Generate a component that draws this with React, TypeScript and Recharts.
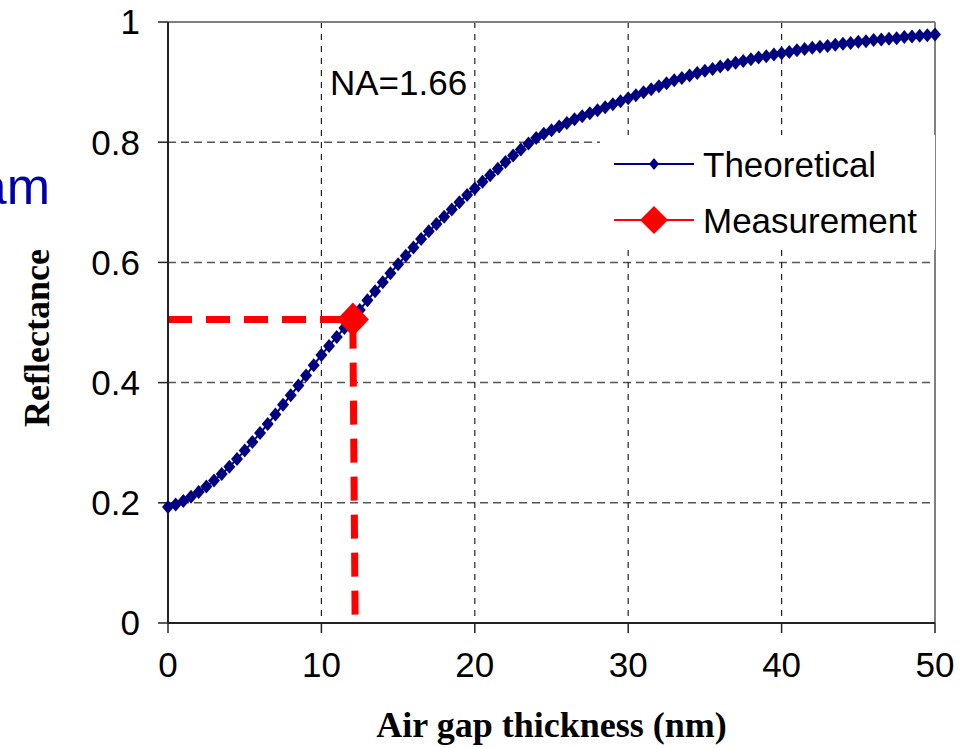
import React from 'react';
import { LineChart, Line, XAxis, YAxis, CartesianGrid, ReferenceLine, Legend } from 'recharts';

// air gap thickness (nm), one point every 0.5 nm
const THICKNESS = [
    0, 0.5, 1, 1.5, 2, 2.5, 3, 3.5, 4, 4.5, 5, 5.5, 6, 6.5, 7, 7.5, 8, 8.5, 9, 9.5,
    10, 10.5, 11, 11.5, 12, 12.5, 13, 13.5, 14, 14.5, 15, 15.5, 16, 16.5, 17, 17.5, 18, 18.5, 19, 19.5,
    20, 20.5, 21, 21.5, 22, 22.5, 23, 23.5, 24, 24.5, 25, 25.5, 26, 26.5, 27, 27.5, 28, 28.5, 29, 29.5,
    30, 30.5, 31, 31.5, 32, 32.5, 33, 33.5, 34, 34.5, 35, 35.5, 36, 36.5, 37, 37.5, 38, 38.5, 39, 39.5,
    40, 40.5, 41, 41.5, 42, 42.5, 43, 43.5, 44, 44.5, 45, 45.5, 46, 46.5, 47, 47.5, 48, 48.5, 49, 49.5,
    50,
];

const REFLECTANCE = [
    0.193, 0.197, 0.203, 0.21, 0.218, 0.227, 0.237, 0.248, 0.26, 0.273,
    0.287, 0.301, 0.316, 0.331, 0.347, 0.363, 0.379, 0.395, 0.412, 0.429,
    0.446, 0.461, 0.476, 0.491, 0.506, 0.521, 0.537, 0.552, 0.567, 0.582,
    0.597, 0.611, 0.625, 0.639, 0.652, 0.664, 0.676, 0.688, 0.7, 0.712,
    0.723, 0.734, 0.745, 0.756, 0.767, 0.778, 0.788, 0.798, 0.807, 0.814,
    0.82, 0.826, 0.832, 0.838, 0.843, 0.848, 0.853, 0.858, 0.863, 0.868,
    0.873, 0.878, 0.883, 0.888, 0.893, 0.898, 0.903, 0.907, 0.911, 0.915,
    0.919, 0.922, 0.926, 0.929, 0.932, 0.935, 0.938, 0.941, 0.943, 0.946,
    0.948, 0.95, 0.953, 0.955, 0.957, 0.959, 0.96, 0.962, 0.964, 0.965,
    0.967, 0.968, 0.97, 0.971, 0.972, 0.973, 0.975, 0.976, 0.977, 0.978,
    0.979,
];

// measured point with its guide lines (from the y axis, and down to the x axis)
const MEAS_X = [0, 12.05, 12.2];
const MEAS_Y = [0.505, 0.505, 0];
const MEAS_POINT = 1;

const X_TICKS = [0, 10, 20, 30, 40, 50];
const Y_TICKS = [0, 0.2, 0.4, 0.6, 0.8, 1];

const NAVY = '#000080';
const RED = '#ff0000';
const SANS = '"Liberation Sans", Arial, sans-serif';
const SERIF = '"Liberation Serif", "Times New Roman", serif';

const theoryData = THICKNESS.map((x, i) => ({ x, y: REFLECTANCE[i] }));
const measData = MEAS_X.map((x, i) => ({ x, y: MEAS_Y[i] }));

const diamond = (cx: number, cy: number, w: number, h: number, fill: string, key?: string) => (
    <polygon
        key={key}
        points={`${cx},${cy - h} ${cx + w},${cy} ${cx},${cy + h} ${cx - w},${cy}`}
        fill={fill}
    />
);

const TheoryDot = (props: any) => {
    const { cx, cy, index } = props;
    if (cx == null || cy == null) return <g key={`t-${index}`} />;
    return diamond(cx, cy, 6, 7, NAVY, `t-${index}`);
};

const MeasDot = (props: any) => {
    const { cx, cy, index } = props;
    if (index !== MEAS_POINT || cx == null) return <g key={`m-${index}`} />;
    return diamond(cx, cy, 16, 17, RED, `m-${index}`);
};

const renderLegend = () => (
    <svg width={335} height={115}>
        <line x1={14} x2={94} y1={29} y2={29} stroke={NAVY} strokeWidth={2} />
        {diamond(54, 29, 5, 6, NAVY)}
        <text x={103} y={29} dominantBaseline="central" fontSize={35} fontFamily={SANS} fill="#000">
            Theoretical
        </text>
        <line x1={14} x2={94} y1={85} y2={85} stroke={RED} strokeWidth={2} />
        {diamond(54, 85, 14, 14, RED)}
        <text x={103} y={85} dominantBaseline="central" fontSize={35} fontFamily={SANS} fill="#000">
            Measurement
        </text>
    </svg>
);

const tickStyle = { fill: '#000', fontSize: 35, fontFamily: SANS };

const App: React.FC = () => {
    return (
        <div style={{ position: 'absolute', left: 0, top: 0, width: 971, height: 748, background: '#fff' }}>
            <LineChart width={971} height={748} margin={{ top: 22, right: 36, bottom: 0, left: 0 }}>
                <CartesianGrid vertical={false} stroke="#555" strokeWidth={1.5} strokeDasharray="8 5" />
                <CartesianGrid horizontal={false} stroke="#222" strokeWidth={1.2} strokeDasharray="6 6" />
                <XAxis
                    type="number"
                    dataKey="x"
                    domain={[0, 50]}
                    ticks={X_TICKS}
                    height={125}
                    tickSize={10}
                    tickMargin={19}
                    tick={tickStyle}
                    axisLine={{ stroke: '#222', strokeWidth: 2 }}
                    tickLine={{ stroke: '#222', strokeWidth: 1.5 }}
                    label={{
                        content: (p: any) => (
                            <text
                                x={p.viewBox.x + p.viewBox.width / 2}
                                y={737}
                                textAnchor="middle"
                                fontFamily={SERIF}
                                fontWeight="bold"
                                fontSize={36}
                                fill="#000"
                            >
                                Air gap thickness (nm)
                            </text>
                        ),
                    }}
                />
                <YAxis
                    type="number"
                    domain={[0, 1]}
                    ticks={Y_TICKS}
                    width={168}
                    tickSize={10}
                    tickMargin={18}
                    tick={tickStyle}
                    tickFormatter={(v: number) => String(v)}
                    axisLine={{ stroke: '#222', strokeWidth: 2 }}
                    tickLine={{ stroke: '#222', strokeWidth: 1.5 }}
                    label={{
                        content: () => (
                            <text
                                x={0}
                                y={0}
                                transform="translate(37, 338) rotate(-90)"
                                textAnchor="middle"
                                dominantBaseline="central"
                                fontFamily={SERIF}
                                fontWeight="bold"
                                fontSize={36}
                                fill="#000"
                            >
                                Reflectance
                            </text>
                        ),
                    }}
                />
                <ReferenceLine y={1} stroke="#808080" strokeWidth={2} />
                <ReferenceLine x={50} stroke="#808080" strokeWidth={2} />
                <Legend
                    layout="horizontal"
                    verticalAlign="middle"
                    align="center"
                    content={renderLegend}
                    wrapperStyle={{ left: 600, top: 135, width: 335, height: 115, background: '#fff' }}
                />
                <Line
                    data={theoryData}
                    dataKey="y"
                    name="Theoretical"
                    type="linear"
                    stroke={NAVY}
                    strokeWidth={2}
                    dot={TheoryDot}
                    activeDot={false}
                    isAnimationActive={false}
                />
                <Line
                    data={measData}
                    dataKey="y"
                    name="Measurement"
                    type="linear"
                    stroke={RED}
                    strokeWidth={7}
                    strokeDasharray="24 14"
                    dot={MeasDot}
                    activeDot={false}
                    isAnimationActive={false}
                />
            </LineChart>
            <svg
                width={971}
                height={748}
                style={{ position: 'absolute', left: 0, top: 0, pointerEvents: 'none' }}
            >
                <text x={50} y={204} textAnchor="end" fontSize={52} fontFamily={SANS} fill="#0000a8">
                    am
                </text>
                <text x={330} y={95} fontSize={35} fontFamily={SANS} fill="#000">
                    NA=1.66
                </text>
            </svg>
        </div>
    );
};

export default App;
